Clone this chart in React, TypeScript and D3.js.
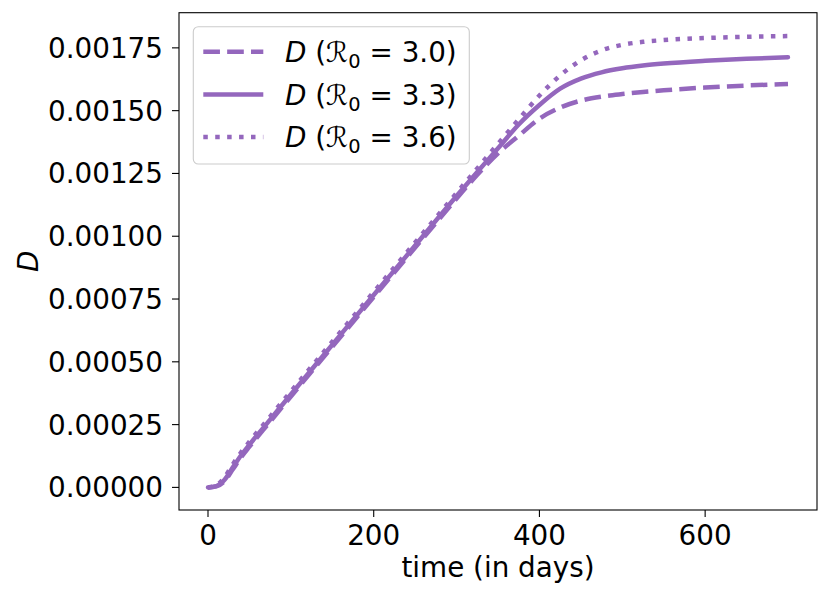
import React from "react";
import * as d3 from "d3";

const times = [0, 10, 20, 30, 40, 50, 75, 100, 150, 200, 250, 300, 325, 350, 375, 400, 425, 450, 475, 500, 525, 550, 600, 650, 700];

const dR30 = [0, 0.000004, 0.000025, 0.000072, 0.00012, 0.000162, 0.000262, 0.000362, 0.00056, 0.000758, 0.000955, 0.00115, 0.001245, 0.00133, 0.0014, 0.001468, 0.001512, 0.00154, 0.001556, 0.001566, 0.001574, 0.001581, 0.001592, 0.0016, 0.001606];
const dR33 = [0, 0.000005, 0.00003, 0.00008, 0.000128, 0.00017, 0.00027, 0.00037, 0.000568, 0.000766, 0.000963, 0.00116, 0.001256, 0.00135, 0.001445, 0.0015225, 0.0015875, 0.0016275, 0.0016525, 0.0016685, 0.0016795, 0.0016875, 0.0016985, 0.0017065, 0.0017125];
const dR36 = [0, 0.000008, 0.00004, 0.000092, 0.00014, 0.000182, 0.000282, 0.000382, 0.00058, 0.000778, 0.000975, 0.001172, 0.00127, 0.001368, 0.001465, 0.00156, 0.00164, 0.0017, 0.00174, 0.001762, 0.001774, 0.001781, 0.001789, 0.001794, 0.001797];

const xTicks = [0, 200, 400, 600];
const yTicks = [0, 0.00025, 0.0005, 0.00075, 0.001, 0.00125, 0.0015, 0.00175];
const yTickLabels = ["0.00000", "0.00025", "0.00050", "0.00075", "0.00100", "0.00125", "0.00150", "0.00175"];
const legendR0 = ["3.0", "3.3", "3.6"];

const COLOR = "#9467bd";
const FONT = "DejaVu Sans, sans-serif";
const FS = 27.8;
const LW = 4.5;

export default function App() {
  const left = 179, right = 817, top = 12.7, bottom = 510;
  const x = d3.scaleLinear().domain([-35, 735]).range([left, right]);
  const y = d3.scaleLinear().domain([-0.00009, 0.00189]).range([bottom, top]);
  const line = d3
    .line<number>()
    .x((_, i) => x(times[i]))
    .y((v) => y(v))
    .curve(d3.curveMonotoneX);

  const series = [
    { data: dR30, dash: `${3.7 * LW} ${1.6 * LW}` },
    { data: dR33, dash: "" },
    { data: dR36, dash: `${1 * LW} ${1.65 * LW}` },
  ];

  const legX = 193.3, legY = 26.7, legW = 276, legH = 137.3;
  const rowY = [51.7, 94.5, 137];

  return (
    <svg width={830} height={598} style={{ position: "absolute", left: 0, top: 0, background: "#fff" }}>
      <rect x={0} y={0} width={830} height={598} fill="#fff" />
      <defs>
        <clipPath id="plotclip">
          <rect x={left} y={top} width={right - left} height={bottom - top} />
        </clipPath>
      </defs>
      <g clipPath="url(#plotclip)">
        {series.map((s, i) => (
          <path
            key={i}
            d={line(s.data) || ""}
            fill="none"
            stroke={COLOR}
            strokeWidth={LW}
            strokeDasharray={s.dash || undefined}
            strokeLinecap={s.dash ? "butt" : "round"}
            strokeLinejoin="round"
          />
        ))}
      </g>
      <rect x={left} y={top} width={right - left} height={bottom - top} fill="none" stroke="#000" strokeWidth={1.1} />
      {yTicks.map((t, i) => (
        <g key={"y" + i}>
          <line x1={left - 7} x2={left} y1={y(t)} y2={y(t)} stroke="#000" strokeWidth={1.1} />
          <text x={left - 16} y={y(t)} dy="0.36em" textAnchor="end" fontFamily={FONT} fontSize={FS} fill="#000">
            {yTickLabels[i]}
          </text>
        </g>
      ))}
      {xTicks.map((t, i) => (
        <g key={"x" + i}>
          <line x1={x(t)} x2={x(t)} y1={bottom} y2={bottom + 7} stroke="#000" strokeWidth={1.1} />
          <text x={x(t)} y={545} textAnchor="middle" fontFamily={FONT} fontSize={FS} fill="#000">
            {t}
          </text>
        </g>
      ))}
      <text x={(left + right) / 2} y={577} textAnchor="middle" fontFamily={FONT} fontSize={FS} fill="#000">
        time (in days)
      </text>
      <text
        transform={`translate(38, ${(top + bottom) / 2}) rotate(-90)`}
        textAnchor="middle"
        fontFamily={FONT}
        fontSize={FS}
        fontStyle="italic"
        fill="#000"
      >
        D
      </text>
      <rect x={legX} y={legY} width={legW} height={legH} rx={5} ry={5} fill="#fff" fillOpacity={0.8} stroke="#cccccc" strokeWidth={1.1} />
      {series.map((s, i) => (
        <g key={"l" + i}>
          <line
            x1={203.3}
            x2={263.3}
            y1={rowY[i]}
            y2={rowY[i]}
            stroke={COLOR}
            strokeWidth={LW}
            strokeDasharray={s.dash || undefined}
          />
          <text x={285} y={rowY[i]} dy="0.36em" fontFamily={FONT} fontSize={FS} fill="#000">
            <tspan fontStyle="italic">D</tspan>
            <tspan> (</tspan>
            <tspan fontStyle="italic">ℛ</tspan>
            <tspan fontSize={FS * 0.7} dy={6}>0</tspan>
            <tspan dy={-6}> = {legendR0[i]})</tspan>
          </text>
        </g>
      ))}
    </svg>
  );
}
